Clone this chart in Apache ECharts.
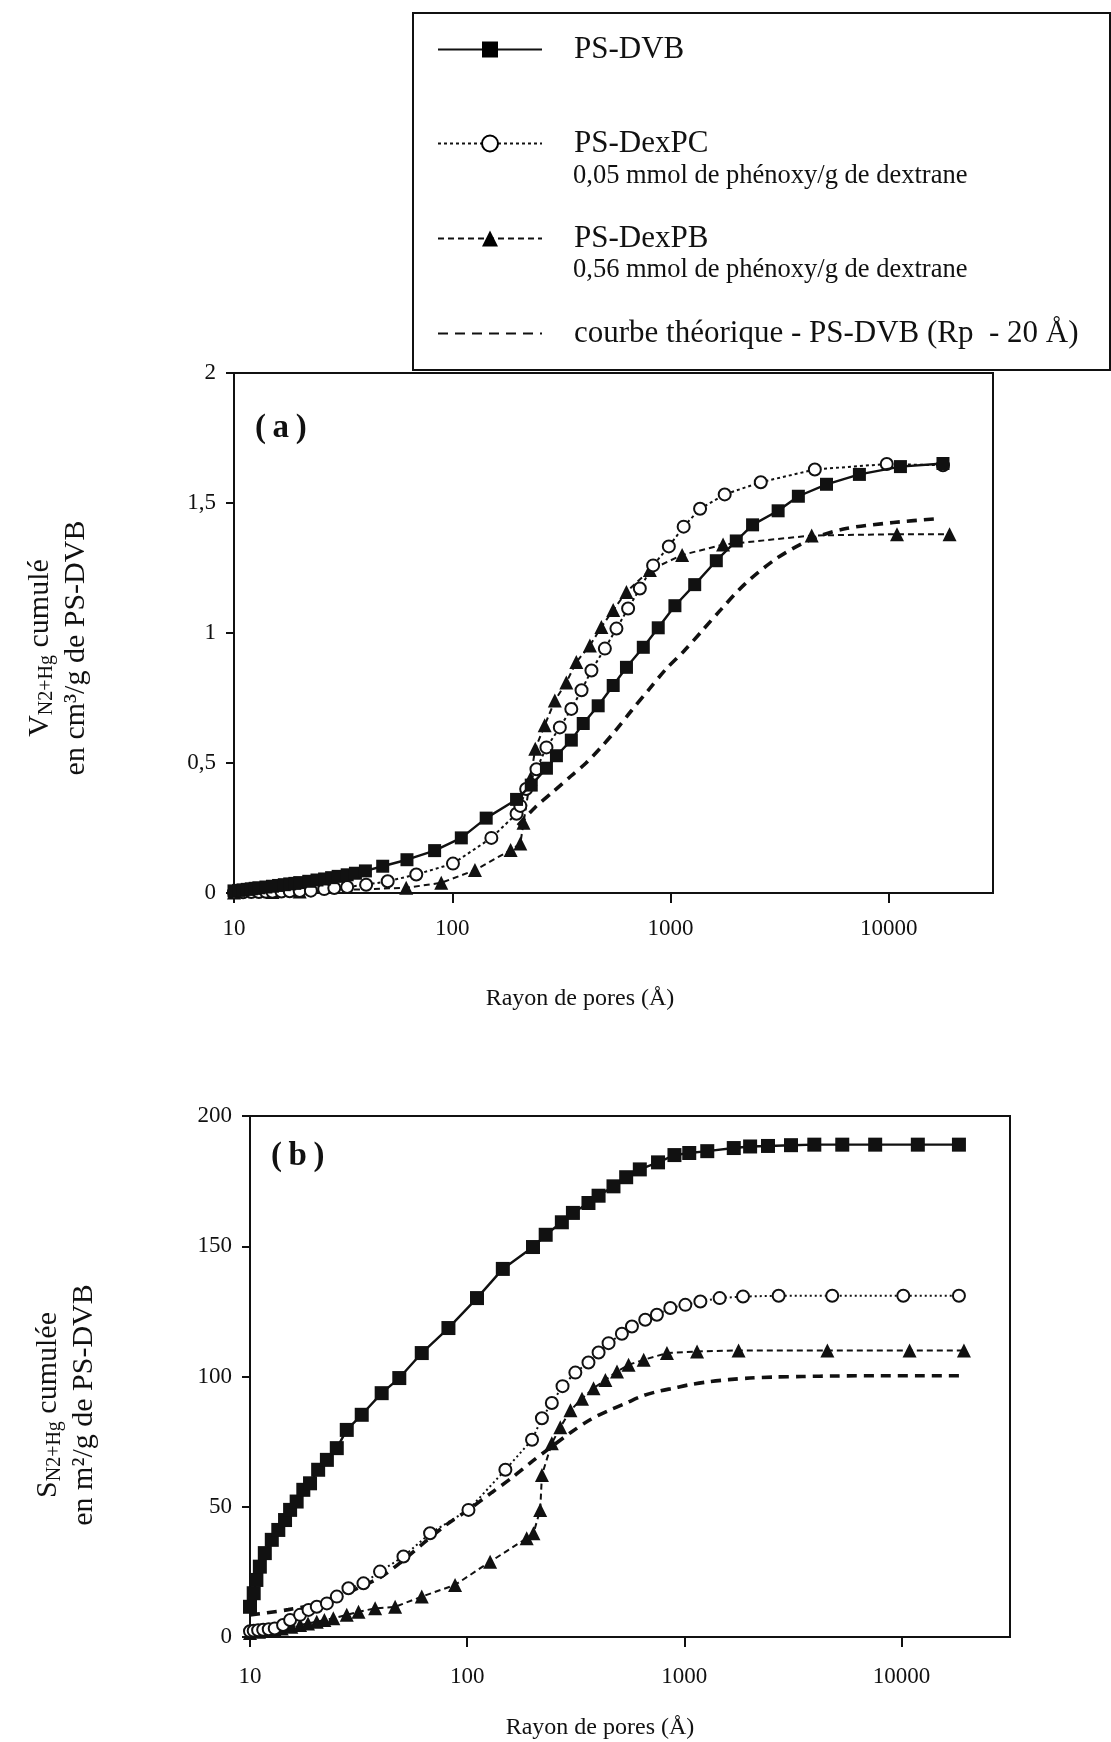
<!DOCTYPE html>
<html>
<head>
<meta charset="utf-8">
<script src="https://cdn.jsdelivr.net/npm/echarts@6/dist/echarts.min.js"></script>
<style>
html,body{margin:0;padding:0;background:#fff;}
#c{width:1111px;height:1742px;}
</style>
</head>
<body>
<div id="c"></div>
<script>
// ---------------- DATA ----------------
const seriesNames = ['PS-DVB', 'PS-DexPC', 'PS-DexPB', 'courbe théorique - PS-DVB (Rp  - 20 Å)'];
const legendSubLines = ['0,05 mmol de phénoxy/g de dextrane', '0,56 mmol de phénoxy/g de dextrane'];
const xTickValues = [10, 100, 1000, 10000];

// (a) cumulative pore volume, cm3/g  (x = pore radius, Å)
const dvbA_r = [10,10.5,11,11.5,12,12.5,13,14,15,16,17,18,19,20,22,24,26,28,30,33,36,40,48,62,83,110,143,197,230,270,300,351,398,466,546,628,750,878,1047,1290,1620,2000,2375,3110,3850,5180,7330,11300,17700];
const dvbA_v = [0.008,0.01,0.012,0.014,0.016,0.018,0.02,0.023,0.026,0.029,0.032,0.035,0.037,0.04,0.045,0.05,0.054,0.059,0.064,0.07,0.076,0.085,0.103,0.128,0.163,0.212,0.288,0.36,0.415,0.48,0.528,0.588,0.652,0.72,0.798,0.868,0.945,1.02,1.105,1.186,1.278,1.354,1.416,1.47,1.526,1.572,1.61,1.64,1.652];

const pcA_r = [10,11,12,13,14,15,16.5,18,20,22.5,25.9,28.8,33,40.3,50.6,68.4,100.7,151,197,205,218,243,270,311,351,391,434,500,565,639,723,832,982,1148,1365,1770,2590,4580,9780,17700];
const pcA_v = [0.003,0.003,0.004,0.004,0.005,0.005,0.006,0.007,0.008,0.009,0.015,0.019,0.023,0.032,0.045,0.071,0.113,0.212,0.305,0.335,0.40,0.476,0.56,0.637,0.708,0.78,0.856,0.94,1.017,1.094,1.171,1.26,1.333,1.409,1.478,1.533,1.58,1.629,1.65,1.645];

const pbA_r = [10,15,20,61.5,89,127,185,205,212,228,240,265,295,333,370,427,482,546,628,804,1130,1740,4430,10900,18970];
const pbA_v = [0.002,0.004,0.006,0.02,0.039,0.088,0.165,0.19,0.27,0.44,0.555,0.645,0.74,0.81,0.888,0.952,1.023,1.088,1.158,1.242,1.30,1.34,1.375,1.38,1.38];

const thA_r = [200,240,290,350,410,480,560,660,800,950,1150,1400,1700,2200,3100,4400,6200,10500,17100];
const thA_v = [0.26,0.33,0.39,0.45,0.50,0.56,0.625,0.70,0.785,0.86,0.93,1.01,1.09,1.19,1.29,1.36,1.40,1.425,1.44];

// (b) cumulative surface area, m2/g
const dvbB_r = [10,10.4,10.7,11.1,11.7,12.6,13.5,14.5,15.3,16.4,17.6,18.9,20.6,22.6,25.1,27.9,32.7,40.4,48.7,61.8,82,111,146,201,230,273,307,362,403,472,540,624,757,901,1054,1276,1690,2010,2430,3100,3970,5340,7570,11900,18400];
const dvbB_s = [11.6,16.8,21.9,27,32.2,37.3,41.1,44.9,48.8,52,56.5,59,64.2,68,72.5,79.5,85.3,93.6,99.4,109,118.6,130.1,141.3,149.7,154.4,159.2,162.8,166.6,169.4,173,176.5,179.5,182.2,185,185.8,186.5,187.7,188.3,188.5,188.8,189,189,189,189,189];

const pcB_r = [10,10.4,10.9,11.5,12.2,13,14.2,15.3,17,18.6,20.3,22.6,25.1,28.4,33.3,39.7,50.9,67.5,101.4,150,199,221,245.5,275,315,362,403,448,516,574,661,748,862,1011,1186,1455,1864,2720,4800,10200,18400];
const pcB_s = [2.2,2.4,2.6,2.8,3.0,3.3,4.6,6.5,8.5,10.4,11.6,12.9,15.5,18.7,20.6,25.1,30.9,39.8,48.8,64.2,75.7,84,89.8,96.3,101.5,105.4,109.2,112.8,116.4,119.2,121.8,123.7,126.3,127.5,128.8,130.1,130.7,131,131,131,131];

const pbB_r = [10,11,12,13,14,15.5,17,18.5,20.3,22,24.2,27.9,31.6,37.7,46.6,61.8,88,127.6,188,202,217,221,245.5,268.5,299,338,382,433,490,554,650,832,1145,1778,4560,10900,19400];
const pbB_s = [1.5,2,2.4,2.8,3.3,3.9,4.6,5.2,5.9,6.5,7.2,8.5,9.7,11,11.6,15.5,20,28.9,37.9,39.8,48.8,62.2,74.4,80.5,87,91.5,95.5,98.7,101.9,104.5,106.4,109,109.6,110,110,110,110];

const thB_r = [10,12,15,20,25,30,40,50,65,80,100,130,160,200,240,300,370,450,530,640,750,900,1050,1300,1600,2000,2600,3500,5000,8000,12000,18400];
const thB_s = [8.5,9.3,10.5,12.5,15,18,23,29,37,43,48.5,55.5,61,67.5,72.5,78.5,83.5,87,89.5,92.5,94.2,95.6,96.8,98,98.8,99.4,99.8,100,100.2,100.3,100.3,100.3];

// ---------------- CHART ----------------
const FONT = '"Liberation Serif", "Times New Roman", Times, serif';
const INK = '#111';
function zip(r, v) { return r.map((x, i) => [x, v[i]]); }

function mkSeries(gi, sets) {
  const big = gi === 1;
  return [
    { name: seriesNames[0], type: 'line', xAxisIndex: gi, yAxisIndex: gi, data: zip(sets[0][0], sets[0][1]),
      symbol: 'rect', symbolSize: big ? 14 : 13, itemStyle: { color: INK },
      lineStyle: { color: INK, width: 2.4, type: 'solid' }, z: 5 },
    { name: seriesNames[1], type: 'line', xAxisIndex: gi, yAxisIndex: gi, data: zip(sets[1][0], sets[1][1]),
      symbol: 'emptyCircle', symbolSize: 12, itemStyle: { color: INK, borderWidth: 2 },
      lineStyle: { color: INK, width: 2, type: big ? [2, 3] : [3, 3] }, z: 4 },
    { name: seriesNames[2], type: 'line', xAxisIndex: gi, yAxisIndex: gi, data: zip(sets[2][0], sets[2][1]),
      symbol: 'triangle', symbolSize: 14, itemStyle: { color: INK },
      lineStyle: { color: INK, width: 2, type: [6, 4] }, z: 3 },
    { name: seriesNames[3], type: 'line', xAxisIndex: gi, yAxisIndex: gi, data: zip(sets[3][0], sets[3][1]),
      symbol: 'none', smooth: 0.3, itemStyle: { color: INK },
      lineStyle: { color: INK, width: 3.6, type: [10, 7] }, z: 2 }
  ];
}

function xAxisCfg(gi, max, margin) {
  return {
    type: 'log', logBase: 10, gridIndex: gi, min: 10, max: max,
    axisLine: { show: true, lineStyle: { color: INK, width: 2 } },
    axisTick: { show: true, inside: false, length: 10, lineStyle: { color: INK, width: 2 }, customValues: xTickValues },
    axisLabel: { customValues: xTickValues, fontFamily: FONT, fontSize: 23, color: INK, margin: margin,
      formatter: v => String(Math.round(v)) },
    splitLine: { show: false }, minorTick: { show: false }
  };
}
function yAxisCfg(gi, max, interval, comma) {
  return {
    type: 'value', gridIndex: gi, min: 0, max: max, interval: interval,
    axisLine: { show: true, lineStyle: { color: INK, width: 2 } },
    axisTick: { show: true, length: 8, lineStyle: { color: INK, width: 2 } },
    axisLabel: { fontFamily: FONT, fontSize: 23, color: INK, margin: 18,
      formatter: v => comma ? String(v).replace('.', ',') : String(v) },
    splitLine: { show: false }
  };
}

const legendTops = [34, 128, 223, 318];
const legends = seriesNames.map((n, i) => ({
  data: [n], left: 437, top: legendTops[i], orient: 'horizontal', padding: 0,
  itemWidth: 104, itemHeight: 20, selectedMode: false,
  textStyle: { fontFamily: FONT, fontSize: 31, color: INK, padding: [0, 0, 0, 27] },
  itemStyle: i === 3 ? { opacity: 0 } : undefined
}));

function txt(text, x, y, size, opts) {
  opts = opts || {};
  return { type: 'text', x: x, y: y, rotation: opts.rotation || 0, z: 20,
    style: { text: text, fill: INK, font: (opts.weight || 'normal') + ' ' + size + 'px ' + FONT,
      align: opts.align || 'left', verticalAlign: 'middle', textAlign: opts.align || 'left', textVerticalAlign: 'middle',
      rich: opts.rich } };
}
const richY = {
  n: { fontSize: 30, fontFamily: FONT, fill: INK, lineHeight: 36 },
  s: { fontSize: 20, fontFamily: FONT, fill: INK, lineHeight: 20, padding: [14, 0, 0, 0] }
};

const option = {
  animation: false,
  backgroundColor: '#fff',
  grid: [
    { left: 234, top: 373, width: 759, height: 520, show: true, borderColor: INK, borderWidth: 2, backgroundColor: 'transparent' },
    { left: 250, top: 1116, width: 760, height: 521, show: true, borderColor: INK, borderWidth: 2, backgroundColor: 'transparent' }
  ],
  xAxis: [xAxisCfg(0, 30000, 24), xAxisCfg(1, 31623, 28)],
  yAxis: [yAxisCfg(0, 2, 0.5, true), yAxisCfg(1, 200, 50, false)],
  legend: legends,
  series: mkSeries(0, [[dvbA_r, dvbA_v], [pcA_r, pcA_v], [pbA_r, pbA_v], [thA_r, thA_v]])
    .concat(mkSeries(1, [[dvbB_r, dvbB_s], [pcB_r, pcB_s], [pbB_r, pbB_s], [thB_r, thB_s]])),
  graphic: [
    { type: 'rect', shape: { x: 413, y: 13, width: 697, height: 357 }, style: { fill: 'none', stroke: INK, lineWidth: 2 }, z: 1 },
    txt(legendSubLines[0], 573, 176, 26.5),
    txt(legendSubLines[1], 573, 270, 26.5),
    txt('(\u2009a\u2009)', 255, 428, 33, { weight: 'bold' }),
    txt('(\u2009b\u2009)', 271, 1156, 33, { weight: 'bold' }),
    txt('Rayon de pores (Å)', 580, 999, 24, { align: 'center' }),
    txt('Rayon de pores (Å)', 600, 1728, 24, { align: 'center' }),
    txt('{n|V}{s|N2+Hg}{n| cumulé}\n{n|en cm³/g de PS-DVB}', 58, 648, 30, { align: 'center', rotation: Math.PI / 2, rich: richY }),
    txt('{n|S}{s|N2+Hg}{n| cumulée}\n{n|en m²/g de PS-DVB}', 66, 1405, 30, { align: 'center', rotation: Math.PI / 2, rich: richY })
  ]
};

const chart = echarts.init(document.getElementById('c'), null, { renderer: 'canvas' });
chart.setOption(option);
</script>
</body>
</html>
